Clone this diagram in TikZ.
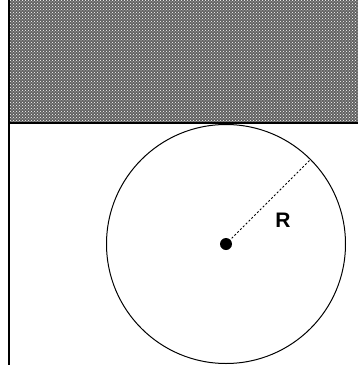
\documentclass[tikz,border=0pt]{standalone}
\usepackage{fontspec}
\setmainfont{Liberation Sans}
\usetikzlibrary{patterns}
\begin{document}
\begin{tikzpicture}[x=1pt,y=-1pt,
  wall/.style={fill=black!62, draw=none},
  edge/.style={draw=black, line width=1.2pt},
  radius line/.style={draw=black, line width=1pt, dash pattern=on 2pt off 2pt},
  lbl/.style={font=\fontsize{21}{23}\selectfont\bfseries, inner sep=0pt}]
\useasboundingbox (0,0) rectangle (358,365);
\fill[white] (0,0) rectangle (358,365);
% ceiling (hatched)
\path[wall] (9,0) rectangle (358,123);
\path[pattern=crosshatch dots, pattern color=white] (9,0) rectangle (358,123);
\draw[edge] (9,123) -- (358,123);
\draw[edge] (9,0) -- (9,365);
% circle
\coordinate (c) at (226,244);
\node[circle, draw=black, line width=1pt, minimum size=239pt, inner sep=0pt] (ball) at (c) {};
\fill[black] (c) circle (6pt);
\draw[radius line] (c) -- (ball.45);
\node[lbl] (R) at (283,220) {R};
\end{tikzpicture}
\end{document}
